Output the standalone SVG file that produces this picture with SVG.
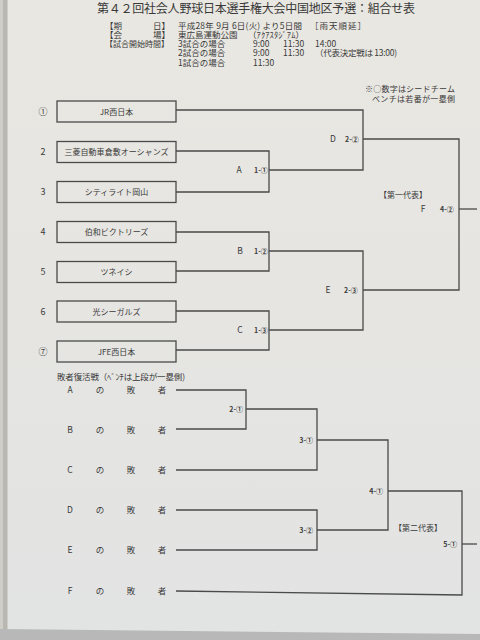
<svg xmlns="http://www.w3.org/2000/svg" width="480" height="640" viewBox="0 0 480 640">
<defs>
<linearGradient id="paper" x1="0" y1="0" x2="0" y2="1">
<stop offset="0" stop-color="#e9e7e1"/>
<stop offset="1" stop-color="#e2e3e3"/>
</linearGradient>
<style>
text{font-family:"Noto Sans CJK JP","Noto Sans",sans-serif;fill:#3a3a3a}
.t{font-size:12px}
.i{font-size:8.5px}
.n{font-size:8px;text-anchor:middle}
.s{font-size:9px;text-anchor:middle}
.m{font-size:8.5px;text-anchor:middle}
.e{font-size:8.5px;text-anchor:end}
.sc{font-size:7px;font-weight:bold}
.sr{font-size:7px;font-weight:bold;text-anchor:end}
.box{fill:none;stroke:#4a4a4a;stroke-width:1.3}
.ln{fill:none;stroke:#4a4a4a;stroke-width:1.3}
</style>
</defs>
<rect x="0" y="0" width="480" height="640" fill="url(#paper)"/>
<rect x="0" y="0" width="8" height="640" fill="#cfcdc8"/>
<rect x="3" y="0" width="4" height="640" fill="#b9b7b2"/>
<path d="M0,629 L480,634 L480,640 L0,640 Z" fill="#b8b8b8"/>

<g id="header">
<text class="t" x="97" y="13" textLength="318">第４２回社会人野球日本選手権大会中国地区予選：組合せ表</text>
<text class="i" x="105" y="28.5">【期</text>
<text class="e" x="170" y="28.5">日】</text>
<text class="i" x="178" y="28.5" textLength="124">平成28年 9月 6日(火) より5日間</text>
<text class="i" x="310" y="28.5" textLength="56">［雨天順延］</text>
<text class="i" x="105" y="37.5">【会</text>
<text class="e" x="170" y="37.5">場】</text>
<text class="i" x="178" y="37.5">東広島運動公園</text>
<text class="i" x="248" y="37.5" textLength="56">（ｱｸｱｽﾀｼﾞｱﾑ）</text>
<text class="i" x="105" y="46.5" textLength="64" style="font-size:8px">【試合開始時間】</text>
<text class="i" x="178" y="46.5">3試合の場合</text>
<text class="i" x="253" y="46.5">9:00</text>
<text class="i" x="283" y="46.5">11:30</text>
<text class="i" x="315" y="46.5">14:00</text>
<text class="i" x="178" y="56">2試合の場合</text>
<text class="i" x="253" y="56">9:00</text>
<text class="i" x="283" y="56">11:30</text>
<text class="i" x="315" y="56" textLength="82">（代表決定戦は 13:00)</text>
<text class="i" x="178" y="65.5">1試合の場合</text>
<text class="i" x="253" y="65.5">11:30</text>
<text class="i" x="365" y="92" textLength="90" style="font-size:8px">※○数字はシードチーム</text>
<text class="i" x="372" y="102" textLength="83" style="font-size:8px">ベンチは若番が一塁側</text>
</g>

<g id="connectors">
<path class="ln" d="M176,110 H363 V170 H269"/>
<path class="ln" d="M176,151 H269 V192 H176"/>
<path class="ln" d="M363,139 H459 V290 H363"/>
<path class="ln" d="M176,232 H269 V271 H176"/>
<path class="ln" d="M269,251 H363 V330 H269"/>
<path class="ln" d="M176,311 H269 V350 H176"/>
<path class="ln" d="M459,209 H477"/>
<path class="ln" d="M176,390 H246 V429 H176"/>
<path class="ln" d="M246,409 H317 V470 H176"/>
<path class="ln" d="M317,440 H388 V530 H317"/>
<path class="ln" d="M176,510 H317 V550 H176"/>
<path class="ln" d="M388,491 H462 V595 L176,591"/>
<path class="ln" d="M462,544 H477"/>
</g>

<g id="team1"><text class="s" x="43" y="114.5">①</text><rect class="box" x="57" y="101" width="119" height="21"/><text class="n" x="116.5" y="114.5">JR西日本</text></g>
<g id="team2"><text class="s" x="43" y="155">2</text><rect class="box" x="57" y="141.5" width="119" height="21"/><text class="n" x="116.5" y="155" textLength="104">三菱自動車倉敷オーシャンズ</text></g>
<g id="team3"><text class="s" x="43" y="195">3</text><rect class="box" x="57" y="181.5" width="119" height="21"/><text class="n" x="116.5" y="195">シティライト岡山</text></g>
<g id="team4"><text class="s" x="43" y="235">4</text><rect class="box" x="57" y="221.5" width="119" height="21"/><text class="n" x="116.5" y="235">伯和ビクトリーズ</text></g>
<g id="team5"><text class="s" x="43" y="275">5</text><rect class="box" x="57" y="261.5" width="119" height="21"/><text class="n" x="116.5" y="275">ツネイシ</text></g>
<g id="team6"><text class="s" x="43" y="314.5">6</text><rect class="box" x="57" y="301" width="119" height="21"/><text class="n" x="116.5" y="314.5">光シーガルズ</text></g>
<g id="team7"><text class="s" x="43" y="354.5">⑦</text><rect class="box" x="57" y="341" width="119" height="21"/><text class="n" x="116.5" y="354.5">JFE西日本</text></g>

<g id="matchA"><text class="m" x="239" y="173">A</text><text class="sc" x="254" y="173">1-①</text></g>
<g id="matchB"><text class="m" x="240" y="254">B</text><text class="sc" x="254" y="254">1-②</text></g>
<g id="matchC"><text class="m" x="240" y="333">C</text><text class="sc" x="254" y="333">1-③</text></g>
<g id="matchD"><text class="m" x="333" y="142">D</text><text class="sc" x="345" y="142">2-②</text></g>
<g id="matchE"><text class="m" x="328" y="293">E</text><text class="sc" x="344" y="293">2-③</text></g>
<g id="matchF"><text class="m" x="403" y="198" style="font-size:8px">【第一代表】</text><text class="m" x="423" y="212">F</text><text class="sc" x="440" y="212">4-②</text></g>

<g id="repechage-title"><text class="i" x="57" y="380" textLength="128">敗者復活戦（ﾍﾞﾝﾁは上段が一塁側)</text></g>
<g id="loserA"><text class="m" x="70" y="393">A</text><text class="m" x="100" y="393">の</text><text class="m" x="131" y="393">敗</text><text class="m" x="162" y="393">者</text></g>
<g id="loserB"><text class="m" x="70" y="433">B</text><text class="m" x="100" y="433">の</text><text class="m" x="131" y="433">敗</text><text class="m" x="162" y="433">者</text></g>
<g id="loserC"><text class="m" x="70" y="473">C</text><text class="m" x="100" y="473">の</text><text class="m" x="131" y="473">敗</text><text class="m" x="162" y="473">者</text></g>
<g id="loserD"><text class="m" x="70" y="513">D</text><text class="m" x="100" y="513">の</text><text class="m" x="131" y="513">敗</text><text class="m" x="162" y="513">者</text></g>
<g id="loserE"><text class="m" x="70" y="553">E</text><text class="m" x="100" y="553">の</text><text class="m" x="131" y="553">敗</text><text class="m" x="162" y="553">者</text></g>
<g id="loserF"><text class="m" x="70" y="594">F</text><text class="m" x="100" y="594">の</text><text class="m" x="131" y="594">敗</text><text class="m" x="162" y="594">者</text></g>

<g id="r2-1"><text class="sr" x="243" y="412">2-①</text></g>
<g id="r3-1"><text class="sr" x="313" y="443">3-①</text></g>
<g id="r3-2"><text class="sr" x="313" y="533">3-②</text></g>
<g id="r4-1"><text class="sr" x="383" y="494">4-①</text></g>
<g id="r5-1"><text class="m" x="418" y="531" style="font-size:8px">【第二代表】</text><text class="sr" x="457" y="547">5-①</text></g>
</svg>
